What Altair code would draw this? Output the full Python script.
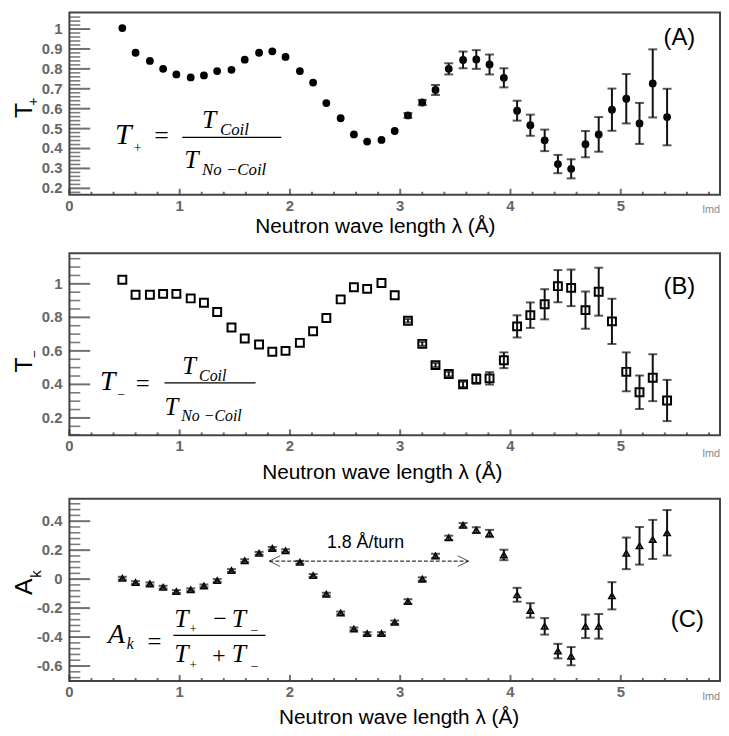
import altair as alt
import pandas as pd

# ---------------- data ----------------
lam = [0.48, 0.60, 0.73, 0.85, 0.97, 1.10, 1.22, 1.34, 1.47, 1.59, 1.72, 1.84, 1.96, 2.09,
       2.21, 2.33, 2.46, 2.58, 2.70, 2.83, 2.95, 3.07, 3.20, 3.32, 3.44, 3.57, 3.69, 3.81,
       3.94, 4.06, 4.18, 4.31, 4.43, 4.55, 4.68, 4.80, 4.92, 5.05, 5.17, 5.29, 5.42]

t_plus = [1.005, 0.881, 0.840, 0.800, 0.772, 0.757, 0.767, 0.789, 0.795, 0.846, 0.881, 0.888,
          0.860, 0.789, 0.731, 0.628, 0.552, 0.471, 0.435, 0.443, 0.488, 0.566, 0.631, 0.694,
          0.800, 0.845, 0.847, 0.822, 0.755, 0.590, 0.517, 0.441, 0.322, 0.298, 0.422, 0.471,
          0.595, 0.650, 0.526, 0.727, 0.558]
t_plus_err = [0, 0, 0, 0, 0, 0, 0, 0, 0, 0, 0, 0, 0, 0, 0, 0, 0, 0, 0, 0, 0,
              0.012, 0.013, 0.025, 0.028, 0.042, 0.047, 0.050, 0.048, 0.050, 0.053, 0.054,
              0.046, 0.048, 0.066, 0.087, 0.106, 0.124, 0.103, 0.171, 0.142]

t_minus = [1.024, 0.935, 0.935, 0.940, 0.940, 0.913, 0.887, 0.832, 0.739, 0.674, 0.638, 0.595,
           0.600, 0.648, 0.717, 0.796, 0.907, 0.980, 0.970, 1.005, 0.932, 0.780, 0.642, 0.515,
           0.462, 0.400, 0.432, 0.436, 0.544, 0.746, 0.813, 0.878, 0.986, 0.976, 0.843, 0.953,
           0.776, 0.475, 0.353, 0.440, 0.304]
t_minus_err = [0, 0, 0, 0, 0, 0, 0, 0, 0, 0, 0, 0, 0, 0, 0, 0, 0, 0, 0, 0, 0,
               0.010, 0.012, 0.012, 0.014, 0.016, 0.029, 0.037, 0.047, 0.066, 0.076, 0.090,
               0.096, 0.109, 0.111, 0.143, 0.135, 0.116, 0.100, 0.140, 0.123]

a_k = [0.006, -0.024, -0.033, -0.056, -0.086, -0.074, -0.047, -0.010, 0.059, 0.127, 0.178,
       0.212, 0.196, 0.116, 0.025, -0.104, -0.234, -0.344, -0.376, -0.376, -0.298, -0.154,
       0.000, 0.160, 0.285, 0.372, 0.338, 0.315, 0.167, -0.108, -0.216, -0.326, -0.497,
       -0.532, -0.326, -0.326, -0.115, 0.178, 0.230, 0.274, 0.320]
a_k_err = [0.010, 0.010, 0.010, 0.010, 0.010, 0.010, 0.010, 0.010, 0.010, 0.010, 0.010,
           0.010, 0.010, 0.010, 0.010, 0.010, 0.010, 0.010, 0.010, 0.010, 0.012, 0.015,
           0.012, 0.015, 0.015, 0.015, 0.020, 0.025, 0.036, 0.048, 0.050, 0.057, 0.050,
           0.063, 0.081, 0.085, 0.094, 0.109, 0.130, 0.135, 0.157]

x_major = [0, 1, 2, 3, 4, 5]
x_minor = [0.2, 0.4, 0.6, 0.8, 1.2, 1.4, 1.6, 1.8, 2.2, 2.4, 2.6, 2.8, 3.2, 3.4, 3.6, 3.8,
           4.2, 4.4, 4.6, 4.8, 5.2, 5.4, 5.6, 5.8]

yA_major = [0.2, 0.3, 0.4, 0.5, 0.6, 0.7, 0.8, 0.9, 1.0]
yA_minor = [0.18, 0.22, 0.24, 0.26, 0.28, 0.32, 0.34, 0.36, 0.38, 0.42, 0.44, 0.46, 0.48,
            0.52, 0.54, 0.56, 0.58, 0.62, 0.64, 0.66, 0.68, 0.72, 0.74, 0.76, 0.78, 0.82,
            0.84, 0.86, 0.88, 0.92, 0.94, 0.96, 0.98, 1.02, 1.04, 1.06]
yB_major = [0.2, 0.4, 0.6, 0.8, 1.0]
yB_minor = [0.10, 0.15, 0.25, 0.30, 0.35, 0.45, 0.50, 0.55, 0.65, 0.70, 0.75, 0.85, 0.90,
            0.95, 1.05, 1.10, 1.15]
yC_major = [-0.6, -0.4, -0.2, 0.0, 0.2, 0.4]
yC_minor = [-0.68, -0.64, -0.56, -0.52, -0.48, -0.44, -0.36, -0.32, -0.28, -0.24, -0.16,
            -0.12, -0.08, -0.04, 0.04, 0.08, 0.12, 0.16, 0.24, 0.28, 0.32, 0.36, 0.44,
            0.48, 0.52]

x_title = "Neutron wave length λ (Å)"

# ---------------- layout helpers ----------------
W, H = 657, 184
SANS = "Liberation Sans"
SERIF = "Liberation Serif"
one = pd.DataFrame({"k": [0]})
xscale = alt.Scale(domain=[0, 5.9], nice=False, zero=False)


def xenc(field):
    return alt.X(f"{field}:Q", scale=xscale, axis=None)


def yenc(field, dom):
    return alt.Y(f"{field}:Q", scale=alt.Scale(domain=dom, nice=False, zero=False), axis=None)


def txt(s, x, y, size, font=SERIF, style="italic", align="left", baseline="alphabetic",
        color="black", angle=0):
    return alt.Chart(one).mark_text(text=s, font=font, fontSize=size, fontStyle=style,
                                    align=align, baseline=baseline, color=color,
                                    angle=angle).encode(x=alt.value(x), y=alt.value(y))


def hline(x1, x2, y, width=1.3, dash=None):
    kw = dict(color="black", strokeWidth=width)
    if dash:
        kw["strokeDash"] = dash
    return alt.Chart(one).mark_rule(**kw).encode(
        x=alt.value(x1), x2=alt.value(x2), y=alt.value(y), y2=alt.value(y))


def panel(vals, errs, dom, ymaj, ymin, point_mark, extras):
    df = pd.DataFrame({"lam": lam, "v": vals, "e": errs})
    base = alt.Chart(df)

    # inward (ROOT-style) ticks
    ytick_maj = alt.Chart(pd.DataFrame({"yv": ymaj})).mark_tick(
        orient="horizontal", size=21, thickness=2, color="#333").encode(
        y=yenc("yv", dom), x=alt.value(10.5))
    ytick_min = alt.Chart(pd.DataFrame({"yv": ymin})).mark_tick(
        orient="horizontal", size=11, thickness=1.6, color="#444").encode(
        y=yenc("yv", dom), x=alt.value(5.5))
    xtick_maj = alt.Chart(pd.DataFrame({"xv": x_major})).mark_tick(
        orient="vertical", size=6, thickness=2, color="#333").encode(
        x=xenc("xv"), y=alt.value(H - 3))
    xtick_min = alt.Chart(pd.DataFrame({"xv": x_minor})).mark_tick(
        orient="vertical", size=3, thickness=2, color="#333").encode(
        x=xenc("xv"), y=alt.value(H - 1.5))

    # tick labels
    ylab = alt.Chart(pd.DataFrame({"yv": ymaj})).transform_calculate(
        lbl="'' + datum.yv").mark_text(
        font=SANS, fontWeight="bold", color="#666", fontSize=15, align="right",
        baseline="middle").encode(y=yenc("yv", dom), x=alt.value(-7), text="lbl:N")
    xlab = alt.Chart(pd.DataFrame({"xv": x_major})).transform_calculate(
        lbl="'' + datum.xv").mark_text(
        font=SANS, fontWeight="bold", color="#666", fontSize=15, align="center",
        baseline="top").encode(x=xenc("xv"), y=alt.value(H + 4), text="lbl:N")

    eb = base.transform_filter("datum.e > 0").transform_calculate(
        lo="datum.v - datum.e", hi="datum.v + datum.e")
    bars = eb.mark_rule(color="#111", strokeWidth=2).encode(
        x=xenc("lam"), y=yenc("lo", dom), y2="hi:Q")
    cap_lo = eb.mark_tick(orient="horizontal", size=9, thickness=2, color="#111").encode(
        x=xenc("lam"), y=yenc("lo", dom))
    cap_hi = eb.mark_tick(orient="horizontal", size=9, thickness=2, color="#111").encode(
        x=xenc("lam"), y=yenc("hi", dom))
    pts = point_mark(base).encode(x=xenc("lam"), y=yenc("v", dom))
    return alt.layer(pts, bars, cap_lo, cap_hi, *extras,
                     ytick_maj, ytick_min, xtick_maj, xtick_min, ylab, xlab
                     ).properties(width=W, height=H)


# ---------------- panel A ----------------
extrasA = [
    txt("T", -46, 99, 25, font=SANS, style="normal", align="center", baseline="middle", angle=270),
    txt("+", -36, 90, 14, font=SANS, style="normal", align="center", baseline="middle", angle=270),
    txt("T", 46, 133, 30),
    txt("+", 69, 137, 14, style="normal", align="center", baseline="middle"),
    txt("=", 93, 125, 26, style="normal", align="center", baseline="middle"),
    hline(114, 214, 126),
    txt("T", 134, 117, 26), txt("Coil", 152, 124, 17),
    txt("T", 116, 157, 26), txt("No −Coil", 134, 164, 17),
    txt("(A)", 616, 26, 24, font=SANS, style="normal", align="center", baseline="middle"),
    txt("lmd", 657, 199, 11, font=SANS, style="normal", align="right", baseline="middle", color="#888"),
    txt(x_title, 309, 217, 21, font=SANS, style="normal", align="center", baseline="middle"),
]
chartA = panel(t_plus, t_plus_err, [0.168, 1.083], yA_major, yA_minor,
               lambda b: b.mark_circle(size=62, color="black", opacity=1), extrasA)

# ---------------- panel B ----------------
extrasB = [
    txt("T", -46, 113, 25, font=SANS, style="normal", align="center", baseline="middle", angle=270),
    txt("–", -36, 102, 12, font=SANS, style="normal", align="center", baseline="middle", angle=270),
    txt("T", 31, 138, 28),
    txt("–", 52, 141, 13, style="normal", align="center", baseline="middle"),
    txt("=", 74, 132, 25, style="normal", align="center", baseline="middle"),
    hline(96, 188, 131),
    txt("T", 114, 122, 25), txt("Coil", 131, 129, 16),
    txt("T", 96, 163, 25), txt("No −Coil", 113, 169, 16),
    txt("(B)", 616, 34, 24, font=SANS, style="normal", align="center", baseline="middle"),
    txt("lmd", 657, 203, 11, font=SANS, style="normal", align="right", baseline="middle", color="#888"),
    txt(x_title, 316, 222, 21, font=SANS, style="normal", align="center", baseline="middle"),
]
chartB = panel(t_minus, t_minus_err, [0.096, 1.183], yB_major, yB_minor,
               lambda b: b.mark_point(shape="square", filled=False, size=64, strokeWidth=2,
                                      color="black", opacity=1), extrasB)

# ---------------- panel C ----------------
extrasC = [
    txt("A", -46, 89, 25, font=SANS, style="normal", align="center", baseline="middle", angle=270),
    txt("k", -34, 76, 15, font=SANS, style="normal", align="center", baseline="middle", angle=270),
    txt("A", 39, 146, 28), txt("k", 58, 152, 16),
    txt("=", 86, 145, 25, style="normal", align="center", baseline="middle"),
    hline(105, 198, 138),
    txt("T", 106, 130, 26), txt("+", 125, 132, 13, style="normal", align="center", baseline="middle"),
    txt("−", 152, 122, 24, style="normal", align="center", baseline="middle"),
    txt("T", 164, 130, 26), txt("–", 187, 132, 13, style="normal", align="center", baseline="middle"),
    txt("T", 106, 165, 26), txt("+", 125, 168, 13, style="normal", align="center", baseline="middle"),
    txt("+", 151, 159, 24, style="normal", align="center", baseline="middle"),
    txt("T", 164, 165, 26), txt("–", 187, 168, 13, style="normal", align="center", baseline="middle"),
    txt("1.8 Å/turn", 299, 45, 18, font=SANS, style="normal", align="center", baseline="middle"),
    hline(202, 403, 63, width=1, dash=[4, 2]),
    alt.Chart(one).mark_point(shape="M1.8,-0.9L0,0L1.8,0.9", filled=False, size=144,
                              strokeWidth=1, color="black").encode(x=alt.value(202), y=alt.value(63)),
    alt.Chart(one).mark_point(shape="M-1.8,-0.9L0,0L-1.8,0.9", filled=False, size=144,
                              strokeWidth=1, color="black").encode(x=alt.value(403), y=alt.value(63)),
    txt("(C)", 624, 123, 24, font=SANS, style="normal", align="center", baseline="middle"),
    txt("lmd", 657, 200, 11, font=SANS, style="normal", align="right", baseline="middle", color="#888"),
    txt(x_title, 333, 221, 21, font=SANS, style="normal", align="center", baseline="middle"),
]
chartC = panel(a_k, a_k_err, [-0.703, 0.555], yC_major, yC_minor,
               lambda b: b.mark_point(shape="triangle-up", filled=False, size=40, strokeWidth=1.6,
                                      color="black", opacity=1), extrasC)

chart = alt.vconcat(chartA, chartB, chartC, spacing=14).properties(
    padding={"left": 3, "top": 0, "right": 0, "bottom": 0},
    background="white",
).configure_view(stroke="#444", strokeWidth=2)

chart.save("out.html", embed_options={"renderer": "svg", "actions": False})
